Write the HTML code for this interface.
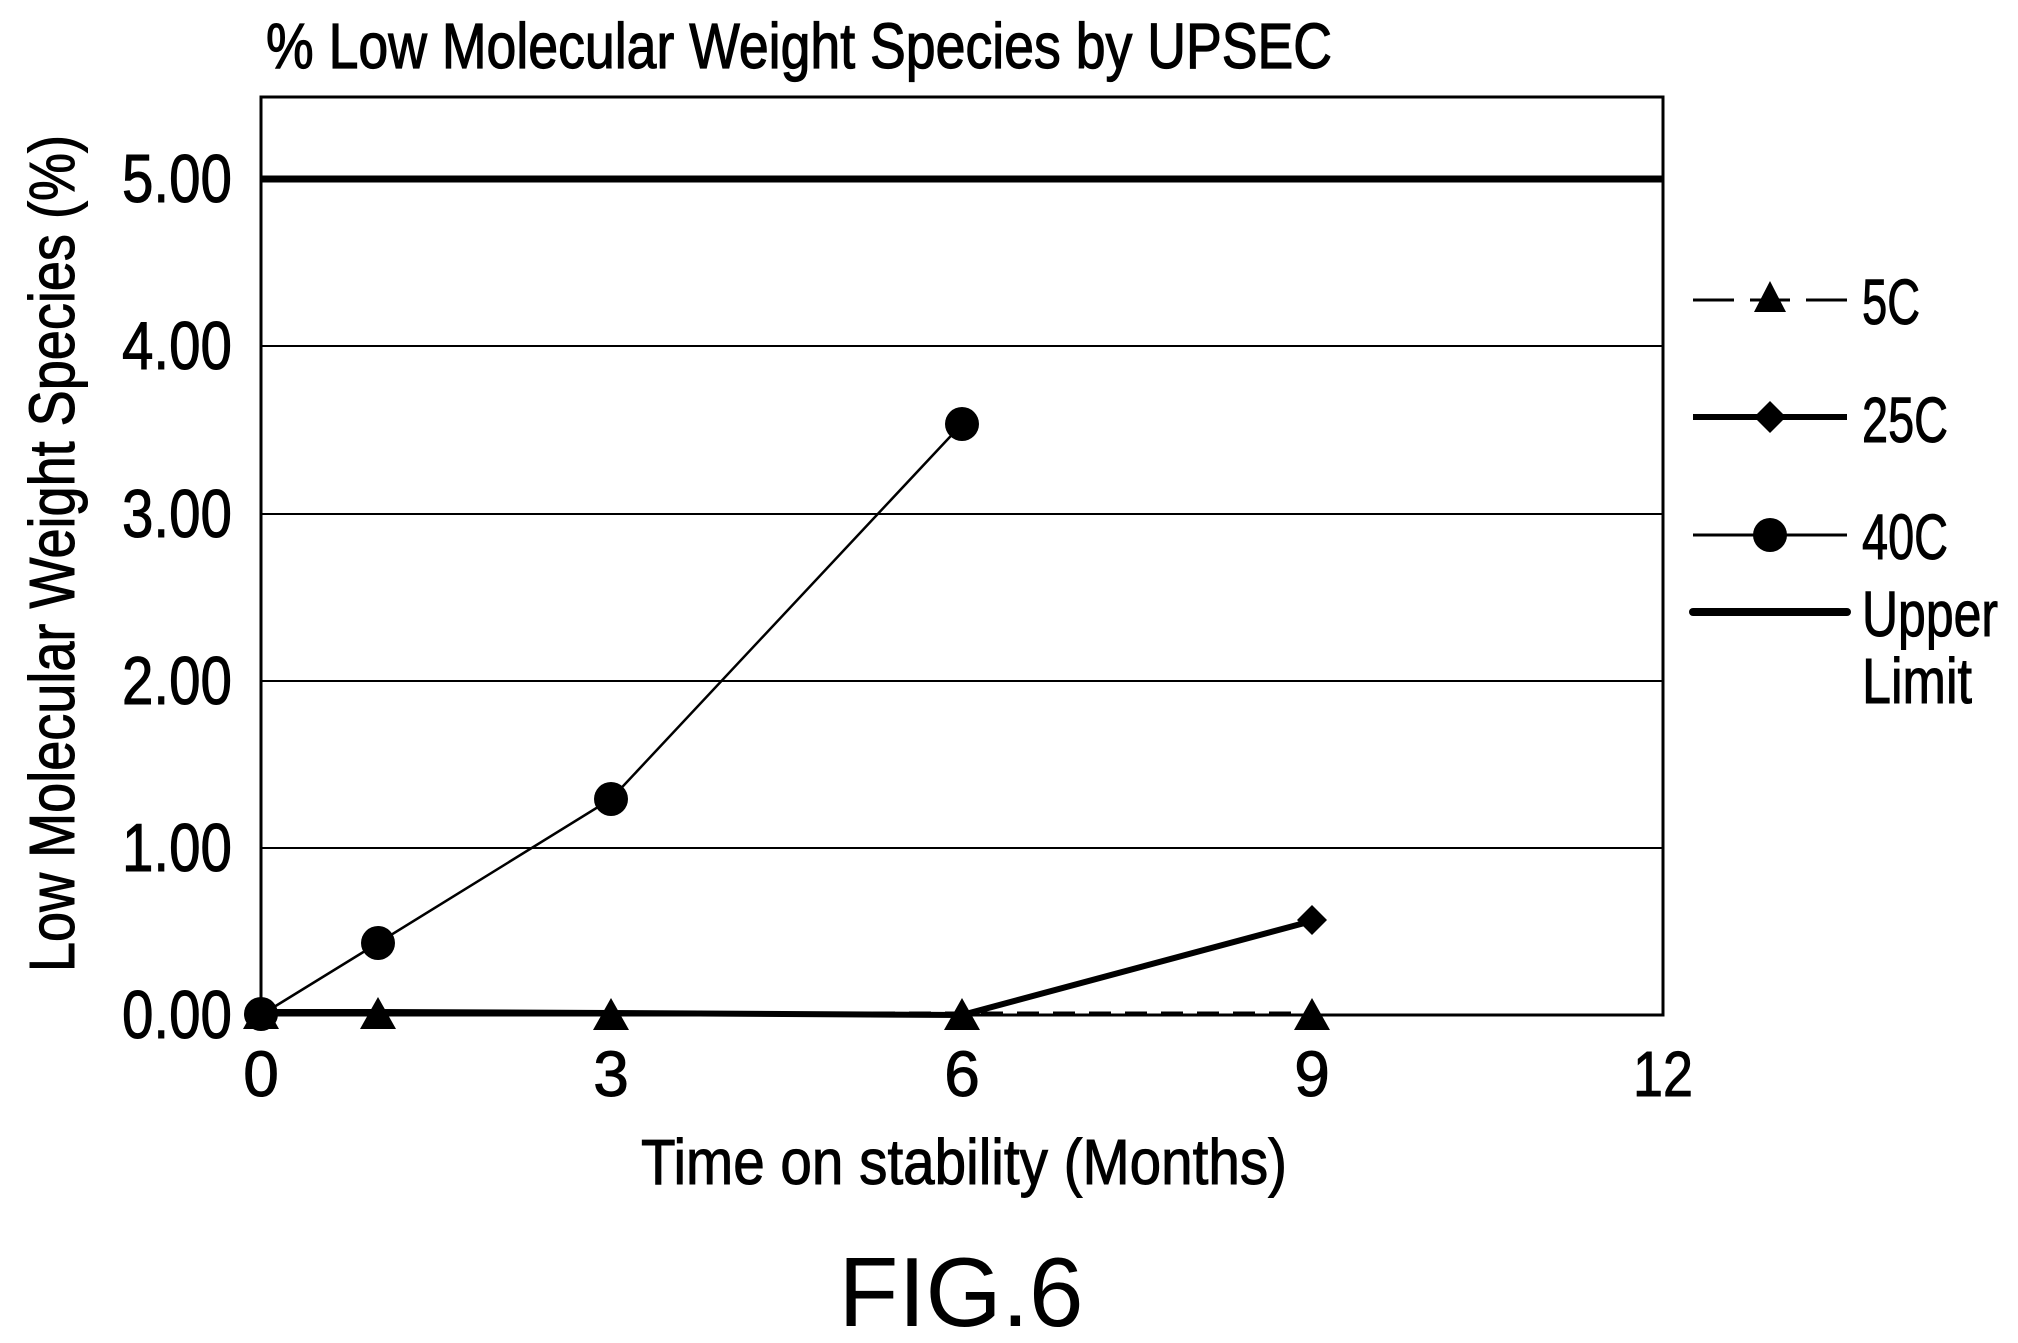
<!DOCTYPE html>
<html><head><meta charset="utf-8"><style>html,body{margin:0;padding:0;background:#fff}svg{display:block}</style></head>
<body>
<svg width="2018" height="1343" viewBox="0 0 2018 1343" xmlns="http://www.w3.org/2000/svg" font-family="Liberation Sans, sans-serif">
<rect width="2018" height="1343" fill="#fff"/>
<g stroke="#000" stroke-width="1.2">
<text x="266" y="68" font-size="64" textLength="1066" lengthAdjust="spacingAndGlyphs">% Low Molecular Weight Species by UPSEC</text>
</g>
<g stroke="#000" stroke-width="2">
<line x1="261" y1="346" x2="1663" y2="346"/>
<line x1="261" y1="514" x2="1663" y2="514"/>
<line x1="261" y1="681" x2="1663" y2="681"/>
<line x1="261" y1="848" x2="1663" y2="848"/>
</g>
<rect x="261" y="97" width="1402" height="918" fill="none" stroke="#000" stroke-width="3"/>
<line x1="261" y1="179" x2="1663" y2="179" stroke="#000" stroke-width="7"/>
<g font-size="68" text-anchor="end" stroke="#000" stroke-width="1">
<text x="232" y="202" textLength="110" lengthAdjust="spacingAndGlyphs">5.00</text>
<text x="232" y="369" textLength="110" lengthAdjust="spacingAndGlyphs">4.00</text>
<text x="232" y="537" textLength="110" lengthAdjust="spacingAndGlyphs">3.00</text>
<text x="232" y="704" textLength="110" lengthAdjust="spacingAndGlyphs">2.00</text>
<text x="232" y="871" textLength="110" lengthAdjust="spacingAndGlyphs">1.00</text>
<text x="232" y="1038" textLength="110" lengthAdjust="spacingAndGlyphs">0.00</text>
</g>
<g font-size="64" text-anchor="middle" stroke="#000" stroke-width="1">
<text x="261" y="1096">0</text>
<text x="611" y="1096">3</text>
<text x="962" y="1096">6</text>
<text x="1312" y="1096">9</text>
<text x="1663" y="1096" textLength="60" lengthAdjust="spacingAndGlyphs">12</text>
</g>
<g stroke="#000" stroke-width="1">
<text x="641" y="1184" font-size="64" textLength="646" lengthAdjust="spacingAndGlyphs">Time on stability (Months)</text>
<text transform="translate(74,972) rotate(-90)" font-size="64" textLength="837" lengthAdjust="spacingAndGlyphs">Low Molecular Weight Species (%)</text>
</g>
<text x="961" y="1326" font-size="98" text-anchor="middle">FIG.6</text>
<polyline points="261,1013 378,1013 611,1013 962,1013 1312,1013" fill="none" stroke="#000" stroke-width="3" stroke-dasharray="22,14"/>
<polyline points="261,1012 378,1012 611,1013 962,1015 1312,921" fill="none" stroke="#000" stroke-width="6"/>
<polyline points="261,1015 378,943 611,799 962,424" fill="none" stroke="#000" stroke-width="2.5"/>
<g fill="#000">
<circle cx="261" cy="1014" r="17"/><circle cx="378" cy="943" r="17"/><circle cx="611" cy="799" r="17"/><circle cx="962" cy="424" r="17"/>
<path d="M261,997 l18,32 h-36z M378,997 l18,32 h-36z M611,998 l18,32 h-36z M962,998 l18,32 h-36z M1312,998 l18,32 h-36z"/>
<polygon points="1312,905 1327,920 1312,935 1297,920"/>
</g>
<g stroke="#000">
<line x1="1693" y1="300" x2="1734" y2="300" stroke-width="3"/>
<line x1="1750" y1="300" x2="1790" y2="300" stroke-width="3"/>
<line x1="1806" y1="300" x2="1847" y2="300" stroke-width="3"/>
<line x1="1693" y1="417" x2="1847" y2="417" stroke-width="6"/>
<line x1="1693" y1="535" x2="1847" y2="535" stroke-width="3"/>
<line x1="1693" y1="612" x2="1847" y2="612" stroke-width="8" stroke-linecap="round"/>
</g>
<g fill="#000">
<polygon points="1770,281 1786,312 1754,312"/>
<polygon points="1770,401 1786,417 1770,433 1754,417"/>
<circle cx="1770" cy="535" r="17"/>
</g>
<g font-size="64" stroke="#000" stroke-width="1">
<text x="1862" y="324" textLength="58" lengthAdjust="spacingAndGlyphs">5C</text>
<text x="1862" y="442" textLength="86" lengthAdjust="spacingAndGlyphs">25C</text>
<text x="1862" y="559" textLength="86" lengthAdjust="spacingAndGlyphs">40C</text>
<text x="1862" y="636" textLength="136" lengthAdjust="spacingAndGlyphs">Upper</text>
<text x="1862" y="703" textLength="110" lengthAdjust="spacingAndGlyphs">Limit</text>
</g>
</svg>
</body></html>
